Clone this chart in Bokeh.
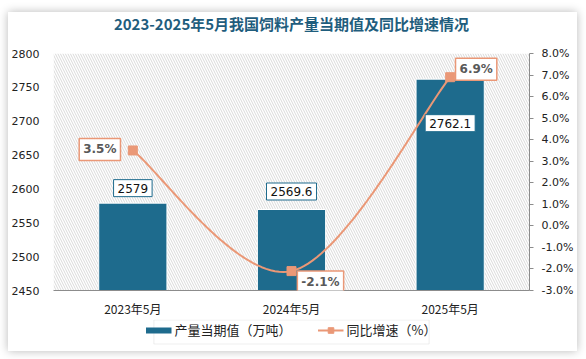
import numpy as np
from bokeh.plotting import figure
from bokeh.layouts import column
from bokeh.models import (Range1d, LinearAxis, FixedTicker, PrintfTickFormatter, BoxAnnotation,
                          Label, Legend, LegendItem, ColumnDataSource)
from bokeh.embed import file_html
from bokeh.resources import INLINE

title_text = "2023-2025年5月我国饲料产量当期值及同比增速情况"
categories = ["2023年5月", "2024年5月", "2025年5月"]
output_values = [2579, 2569.6, 2762.1]
growth_values = [3.5, -2.1, 6.9]
output_labels = ["2579", "2569.6", "2762.1"]
growth_labels = ["3.5%", "-2.1%", "6.9%"]
left_ticks = [2450, 2500, 2550, 2600, 2650, 2700, 2750, 2800]
right_ticks = [-3, -2, -1, 0, 1, 2, 3, 4, 5, 6, 7, 8]
legend_labels = ["产量当期值（万吨）", "同比增速（%）"]

BAR = "#1e6b8d"
LINE = "#ea9877"
CJK = "Noto Sans CJK SC"
NUM = "DejaVu Sans"
W = 569

xs = [i + 0.5 for i in range(len(categories))]

# title strip
tf = figure(width=W, height=31, output_backend="svg", toolbar_location=None,
            x_range=Range1d(0, W), y_range=Range1d(31, 0),
            x_axis_location=None, y_axis_location=None, min_border=0)
tf.outline_line_color = None
tf.grid.visible = False
tf.border_fill_color = "white"
tf.background_fill_color = "white"
tf.add_layout(Label(x=W / 2, y=10.5, text=title_text, text_align="center", text_baseline="middle",
                    text_font=CJK, text_font_size="15px", text_font_style="bold",
                    text_color="#1f5d7d"))

p = figure(width=W, height=276, output_backend="svg", toolbar_location=None,
           x_range=Range1d(0, len(categories)), y_range=Range1d(2450, 2800),
           min_border_left=42, min_border_right=48, min_border_top=10, min_border_bottom=27)
p.extra_y_ranges = {"pct": Range1d(-3, 8)}
p.outline_line_color = None
p.grid.visible = False
p.background_fill_color = "white"
p.border_fill_color = "white"

# hatch background
p.add_layout(BoxAnnotation(fill_alpha=0, line_alpha=0, hatch_pattern="\\", hatch_color="#cfcfcf",
                           hatch_scale=5, hatch_weight=0.8, level="underlay"))

src = ColumnDataSource(dict(x=xs, top=output_values))
bars = p.vbar(x="x", top="top", bottom=2450, width=0.43, source=src,
              fill_color=BAR, line_color="white", line_width=1)

# smoothed line (Bezier smoothing through the data points)
pts = np.array(list(zip(xs, growth_values)), dtype=float)
cx, cy = [], []
n = len(pts)
for i in range(n - 1):
    p0 = pts[max(i - 1, 0)]
    p1 = pts[i]
    p2 = pts[i + 1]
    p3 = pts[min(i + 2, n - 1)]
    c1 = p1 + (p2 - p0) / 6.0
    c2 = p2 - (p3 - p1) / 6.0
    t = np.linspace(0, 1, 41)[:, None]
    seg = ((1 - t) ** 3) * p1 + 3 * ((1 - t) ** 2) * t * c1 + 3 * (1 - t) * t ** 2 * c2 + t ** 3 * p2
    cx.extend(seg[:, 0].tolist())
    cy.extend(seg[:, 1].tolist())
line = p.line(cx, cy, y_range_name="pct", line_color=LINE, line_width=2)
marks = p.scatter(xs, growth_values, y_range_name="pct", marker="square", size=9,
                  fill_color=LINE, line_color=LINE)

# axes
p.yaxis.ticker = FixedTicker(ticks=left_ticks)
p.yaxis.axis_line_color = None
p.yaxis.major_tick_line_color = None
p.yaxis.major_tick_out = 0
p.yaxis.major_tick_in = 0
p.yaxis.minor_tick_line_color = None
p.yaxis.minor_tick_out = 0
p.yaxis.major_label_standoff = 14
p.yaxis.major_label_text_font = NUM
p.yaxis.major_label_text_font_size = "11px"
p.yaxis.major_label_text_color = "#222222"

ra = LinearAxis(y_range_name="pct", ticker=FixedTicker(ticks=right_ticks),
                formatter=PrintfTickFormatter(format="%.1f%%"))
ra.axis_line_color = "#8c8c8c"
ra.major_tick_line_color = "#8c8c8c"
ra.major_tick_out = 4
ra.major_tick_in = 0
ra.minor_tick_line_color = None
ra.minor_tick_out = 0
ra.major_label_standoff = 8
ra.major_label_text_font = NUM
ra.major_label_text_font_size = "11px"
ra.major_label_text_color = "#222222"
p.add_layout(ra, "right")

p.xaxis.ticker = FixedTicker(ticks=xs)
p.xaxis.major_label_overrides = {x: c for x, c in zip(xs, categories)}
p.xaxis.axis_line_color = "#8c8c8c"
p.xaxis.major_tick_line_color = None
p.xaxis.major_tick_out = 0
p.xaxis.major_tick_in = 0
p.xaxis.minor_tick_line_color = None
p.xaxis.minor_tick_out = 0
p.xaxis.major_label_standoff = 9
p.xaxis.major_label_text_font = CJK
p.xaxis.major_label_text_font_size = "12px"
p.xaxis.major_label_text_color = "#222222"

# bar value labels
bar_offsets = [(0, 15), (0, 18), (0, -44)]
for x, v, t, (dx, dy) in zip(xs, output_values, output_labels, bar_offsets):
    p.add_layout(Label(x=x, y=v, text=t, x_offset=dx, y_offset=dy,
                       text_align="center", text_baseline="middle",
                       text_font=NUM, text_font_size="12px", text_color="#111111",
                       background_fill_color="white", border_line_color=BAR,
                       border_line_width=1, padding=4))

# growth labels
g_offsets = [(-33, 1), (29, -11), (26, 8)]
for x, v, t, (dx, dy) in zip(xs, growth_values, growth_labels, g_offsets):
    p.add_layout(Label(x=x, y=v, y_range_name="pct", text=t, x_offset=dx, y_offset=dy,
                       text_align="center", text_baseline="middle",
                       text_font=NUM, text_font_size="12px", text_font_style="bold",
                       text_color="#595959",
                       background_fill_color="white", border_line_color=LINE,
                       border_line_width=1.5, padding=4))

# legend in its own strip below the chart
lg = figure(width=W, height=32, output_backend="svg", toolbar_location=None,
            x_range=Range1d(0, W), y_range=Range1d(32, 0),
            x_axis_location=None, y_axis_location=None, min_border=0)
lg.outline_line_color = None
lg.grid.visible = False
lg.border_fill_color = "white"
lg.background_fill_color = "white"
lg.add_layout(BoxAnnotation(left=120, right=449, top=0.5, bottom=24.5,
                            fill_color="white", fill_alpha=1,
                            line_color="#c8c8c8", line_width=1))
proxy_bar = lg.line([-100, -90], [-100, -100], line_color=BAR, line_width=6)
proxy_line = lg.line([-100, -90], [-100, -100], line_color=LINE, line_width=2)
proxy_mark = lg.scatter([-100], [-100], marker="square", size=9, fill_color=LINE, line_color=LINE)
legend = Legend(items=[LegendItem(label=legend_labels[0], renderers=[proxy_bar]),
                       LegendItem(label=legend_labels[1], renderers=[proxy_line, proxy_mark])],
                orientation="horizontal", location="top_center",
                label_text_font=CJK, label_text_font_size="13px", label_text_color="#222222",
                glyph_width=26, glyph_height=14, spacing=26, padding=4, margin=1,
                border_line_color=None, background_fill_alpha=0,
                label_standoff=3, label_height=15)
lg.add_layout(legend, "center")

layout = column(tf, p, lg, spacing=0, margin=(12, 9, 8, 8))
layout.styles = {"box-shadow": "0px 0px 9px rgba(0,0,0,0.28)", "background-color": "white"}

html = file_html(layout, INLINE)
open("out.html", "w").write(html)
